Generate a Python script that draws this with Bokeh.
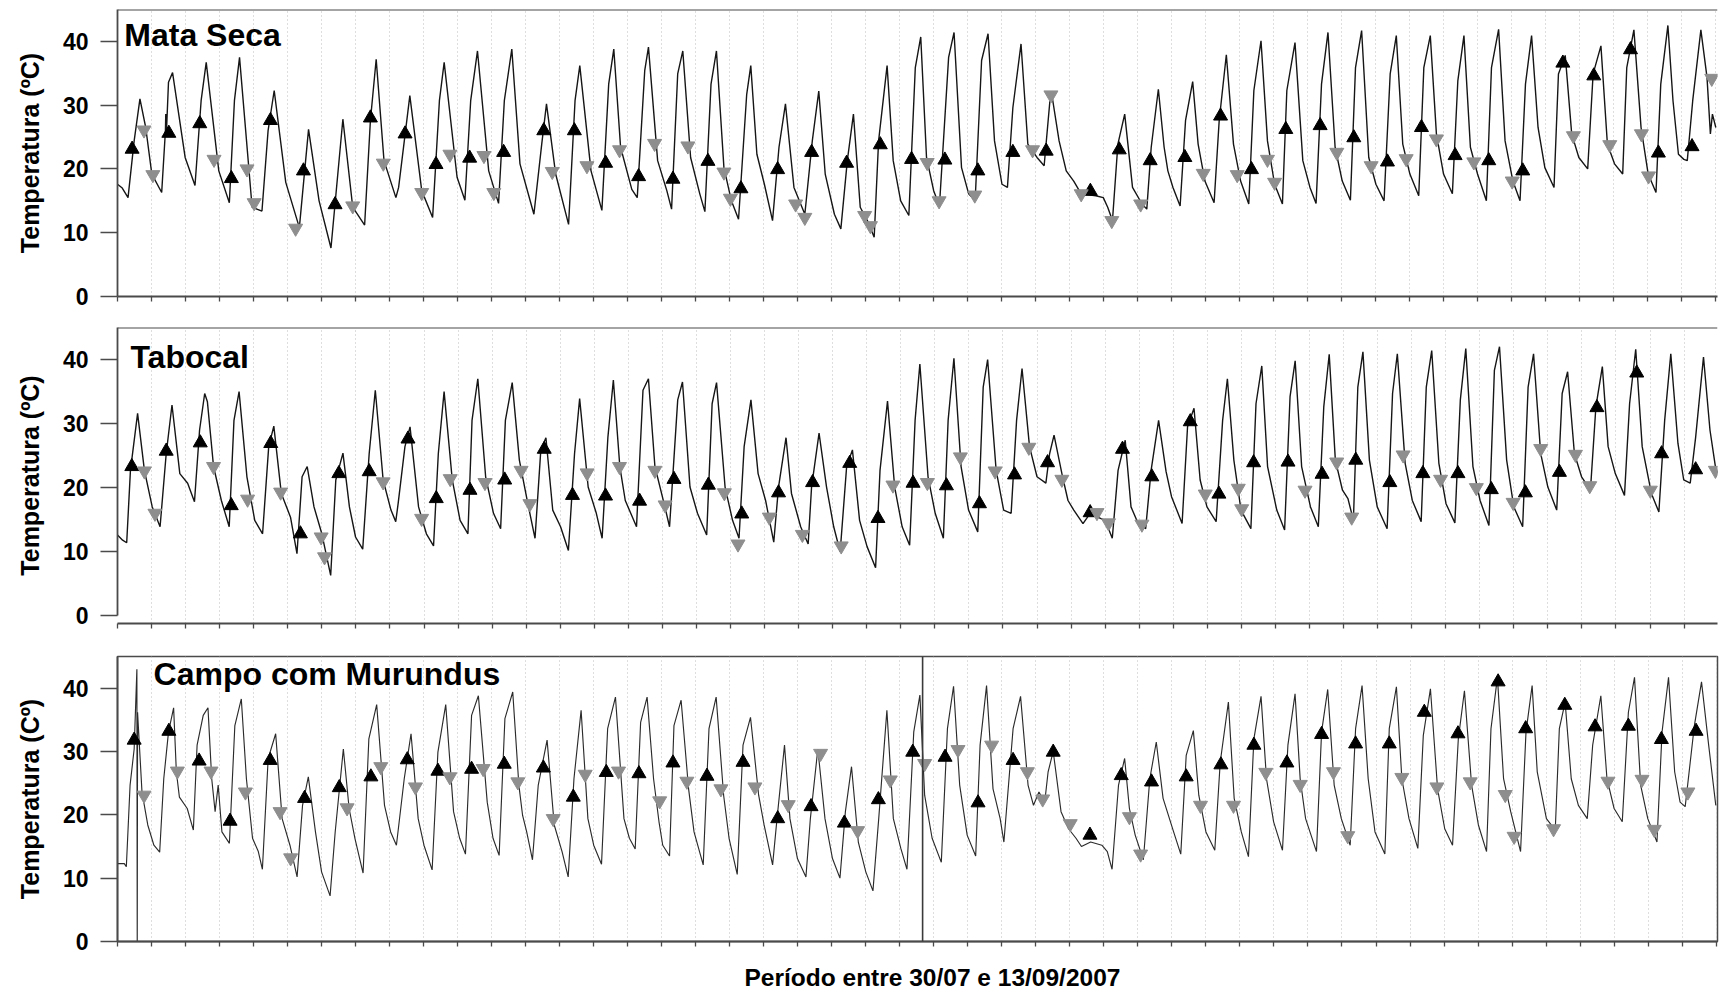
from bokeh.plotting import figure
from bokeh.layouts import column
from bokeh.models import FixedTicker, Span, Label
from bokeh.embed import file_html
from bokeh.resources import INLINE

FONT = "Liberation Sans"

# x unit: days since the left axis (30/07); one dotted grid line per day
day_ticks = list(range(0, 48))
temp_ticks = [0, 10, 20, 30, 40]

panel_titles = ["Mata Seca", "Tabocal", "Campo com Murundus"]
y_labels = ["Temperatura (ºC)", "Temperatura (ºC)", "Temperatura (Cº)"]
x_label = "Período entre 30/07 e 13/09/2007"

# ---- Mata Seca: temperature curve (day, °C) ----
mata_seca_curve = [
    (0.00, 17.6), (0.14, 17.0), (0.31, 15.5), (0.49, 24.4), (0.66, 31.0), (0.83, 26.5), (1.01, 19.2), (1.30, 16.3),
    (1.41, 26.0), (1.42, 28.6), (1.44, 25.8), (1.50, 33.6), (1.62, 35.1), (1.99, 21.8), (2.28, 17.4),
    (2.46, 30.7), (2.61, 36.7), (2.98, 19.7), (3.29, 14.7),
    (3.44, 30.7), (3.59, 37.5), (3.96, 14.0), (4.25, 13.4),
    (4.43, 26.0), (4.61, 32.3), (4.95, 17.9), (5.35, 10.8),
    (5.62, 26.2), (5.93, 15.0), (6.28, 7.6),
    (6.63, 27.8), (6.92, 14.0), (7.27, 11.2),
    (7.44, 27.6), (7.61, 37.2), (7.84, 21.3), (8.19, 15.5), (8.27, 17.1),
    (8.60, 31.5), (8.95, 16.6), (9.27, 12.4),
    (9.47, 30.7), (9.61, 36.7), (9.99, 18.7), (10.22, 15.1),
    (10.39, 30.7), (10.59, 38.5), (10.92, 19.7), (11.21, 14.6),
    (11.38, 30.7), (11.60, 38.8), (11.84, 20.8), (12.25, 12.9),
    (12.48, 23.9), (12.62, 30.2), (12.89, 19.2), (13.27, 11.3),
    (13.46, 30.7), (13.60, 36.2), (13.93, 19.7), (14.25, 13.5),
    (14.45, 33.3), (14.60, 38.8), (14.80, 23.4), (15.13, 16.8), (15.29, 15.5),
    (15.51, 35.4), (15.62, 39.1), (15.89, 21.3), (16.16, 16.6), (16.30, 13.7),
    (16.48, 34.9), (16.63, 38.5), (16.86, 21.8), (17.13, 16.1), (17.28, 13.3),
    (17.46, 33.3), (17.62, 38.5), (17.84, 20.2), (18.06, 15.0), (18.27, 12.1),
    (18.51, 31.7), (18.63, 36.2), (18.81, 22.3), (19.03, 17.6), (19.27, 11.9),
    (19.46, 23.4), (19.65, 30.2), (19.90, 17.1), (20.22, 12.9),
    (20.44, 24.4), (20.63, 32.2), (20.82, 19.2), (21.09, 12.9), (21.28, 10.6),
    (21.47, 21.3), (21.65, 28.6), (21.85, 14.0), (22.06, 11.9), (22.26, 9.3),
    (22.39, 24.4), (22.64, 36.2), (22.82, 21.3), (23.04, 15.0), (23.28, 12.7),
    (23.47, 35.9), (23.63, 40.7), (23.80, 21.8), (24.01, 16.6), (24.18, 14.2),
    (24.45, 37.5), (24.61, 41.4), (24.83, 20.2), (25.04, 16.1), (25.23, 15.0),
    (25.42, 37.0), (25.61, 41.2), (25.80, 24.4), (26.02, 17.6), (26.18, 17.1),
    (26.34, 29.6), (26.58, 39.6), (26.78, 23.9), (27.05, 21.8), (27.26, 20.5),
    (27.43, 30.7), (27.50, 31.2), (27.70, 24.4), (27.91, 19.7), (28.13, 18.1), (28.35, 16.1),
    (28.78, 15.8), (29.00, 15.5), (29.13, 14.0), (29.27, 11.9),
    (29.43, 23.9), (29.63, 28.6), (29.86, 17.1), (30.14, 14.5), (30.28, 13.7),
    (30.41, 23.4), (30.62, 32.5), (30.79, 23.4), (30.90, 19.7), (31.05, 17.1), (31.26, 14.2),
    (31.42, 27.6), (31.63, 33.7), (31.79, 23.9), (31.99, 18.1), (32.26, 14.7),
    (32.41, 27.6), (32.62, 37.9), (32.83, 23.9), (33.04, 18.1), (33.28, 14.5),
    (33.43, 32.3), (33.64, 40.1), (33.83, 24.4), (34.04, 17.6), (34.27, 14.5),
    (34.40, 32.3), (34.64, 39.8), (34.87, 21.3), (35.08, 17.1), (35.26, 14.6),
    (35.42, 33.3), (35.61, 41.4), (35.82, 23.4), (36.03, 18.1), (36.27, 15.1),
    (36.42, 35.9), (36.60, 41.7), (36.81, 21.8), (37.02, 17.6), (37.26, 15.0),
    (37.44, 34.9), (37.62, 40.9), (37.81, 23.9), (38.02, 19.2), (38.28, 15.8),
    (38.43, 35.9), (38.62, 40.9), (38.80, 25.5), (39.01, 19.2), (39.27, 16.1),
    (39.43, 33.8), (39.61, 40.9), (39.80, 23.4), (40.01, 19.2), (40.27, 15.0),
    (40.42, 35.9), (40.63, 41.9), (40.82, 24.4), (41.05, 18.1), (41.26, 15.0),
    (41.42, 33.3), (41.60, 40.9), (41.79, 26.5), (41.99, 20.2), (42.26, 17.1),
    (42.39, 34.9), (42.59, 37.8), (42.78, 25.5), (42.99, 21.8), (43.25, 20.0),
    (43.41, 34.9), (43.64, 39.3), (43.83, 23.9), (44.04, 20.8), (44.28, 19.2),
    (44.40, 35.9), (44.61, 41.8), (44.82, 26.5), (45.03, 19.2), (45.26, 16.3),
    (45.40, 33.3), (45.61, 42.5), (45.76, 30.7), (45.92, 22.3), (46.08, 21.5), (46.18, 21.3),
    (46.34, 30.7), (46.58, 41.8), (46.76, 34.4), (46.86, 25.5), (46.92, 28.6), (47.02, 26.5),
]
mata_seca_up = [
    (0.43, 23.1), (1.51, 25.6), (2.42, 27.1), (3.35, 18.5), (4.50, 27.6), (5.47, 19.7), (6.40, 14.4),
    (7.44, 28.0), (8.46, 25.5), (9.37, 20.7), (10.36, 21.7), (11.36, 22.6), (12.54, 26.0), (13.44, 26.0),
    (14.36, 20.9), (15.33, 18.8), (16.34, 18.4), (17.37, 21.2), (18.34, 16.9), (19.42, 19.9), (20.42, 22.6),
    (21.45, 20.9), (22.44, 23.8), (23.36, 21.5), (24.34, 21.4), (25.31, 19.7), (26.34, 22.6), (27.32, 22.8),
    (28.62, 16.5), (29.47, 23.0), (30.38, 21.3), (31.40, 21.8), (32.45, 28.3), (33.36, 19.9), (34.37, 26.2),
    (35.38, 26.8), (36.37, 24.9), (37.36, 21.1), (38.36, 26.5), (39.35, 22.1), (40.34, 21.3), (41.34, 19.7),
    (42.52, 36.6), (43.43, 34.6), (44.51, 38.7), (45.33, 22.5), (46.32, 23.5),
]
mata_seca_down = [
    (0.78, 26.1), (1.04, 19.1), (2.84, 21.5), (3.81, 20.0), (4.02, 14.7), (5.24, 10.7), (6.92, 14.2),
    (7.82, 20.9), (8.95, 16.3), (9.78, 22.3), (10.78, 22.1), (11.07, 16.3), (12.79, 19.6), (13.81, 20.5),
    (14.77, 23.0), (15.80, 24.0), (16.78, 23.6), (17.84, 19.5), (18.03, 15.4), (19.95, 14.5), (20.22, 12.4),
    (21.98, 12.7), (22.15, 11.1), (23.82, 21.0), (24.17, 15.0), (25.22, 15.9), (26.92, 23.0), (27.46, 31.6),
    (28.35, 16.1), (29.25, 11.9), (30.10, 14.5), (31.94, 19.3), (32.94, 19.1), (33.83, 21.5), (34.04, 17.9),
    (35.87, 22.6), (36.88, 20.5), (37.91, 21.6), (38.80, 24.7), (39.90, 21.1), (41.03, 18.1), (42.83, 25.2),
    (43.90, 23.8), (44.83, 25.5), (45.04, 18.9), (46.90, 34.2),
]

# ---- Tabocal ----
tabocal_curve = [
    (0.00, 12.6), (0.15, 11.8), (0.27, 11.4), (0.38, 22.7), (0.59, 31.6), (0.79, 22.7), (1.02, 17.0), (1.25, 13.9),
    (1.43, 25.3), (1.60, 32.9), (1.83, 22.2), (2.06, 20.7), (2.26, 17.8),
    (2.41, 29.0), (2.56, 34.7), (2.64, 33.4), (2.82, 23.3), (3.05, 18.0), (3.28, 13.9),
    (3.42, 30.5), (3.57, 35.0), (3.80, 21.7), (4.03, 14.9), (4.26, 12.8),
    (4.44, 26.4), (4.59, 29.6), (4.81, 19.1), (5.08, 15.4), (5.27, 9.7),
    (5.42, 21.7), (5.57, 23.3), (5.77, 17.0), (6.00, 12.8), (6.26, 6.3),
    (6.41, 21.2), (6.62, 25.4), (6.81, 17.0), (6.99, 12.3), (7.20, 10.4),
    (7.39, 25.3), (7.57, 35.2), (7.80, 21.2), (8.03, 16.5), (8.17, 14.7), (8.24, 17.5),
    (8.44, 26.4), (8.59, 29.5), (8.84, 17.0), (9.07, 12.8), (9.28, 10.9),
    (9.42, 25.3), (9.59, 35.0), (9.83, 21.2), (10.06, 14.9), (10.29, 12.8),
    (10.41, 30.5), (10.58, 37.0), (10.81, 21.7), (11.04, 16.0), (11.25, 13.6),
    (11.39, 30.5), (11.59, 36.4), (11.80, 24.3), (12.03, 18.0), (12.26, 12.1),
    (12.43, 25.9), (12.58, 27.8), (12.78, 16.5), (13.01, 13.9), (13.24, 10.2),
    (13.42, 25.3), (13.57, 33.9), (13.82, 20.1), (14.06, 16.0), (14.23, 12.1),
    (14.40, 27.9), (14.56, 36.8), (14.75, 23.3), (14.91, 18.0), (15.24, 13.9),
    (15.43, 35.2), (15.59, 37.0), (15.78, 23.3), (16.05, 17.5), (16.21, 13.9),
    (16.45, 33.7), (16.59, 36.5), (16.81, 20.1), (17.03, 16.0), (17.30, 12.6),
    (17.46, 33.1), (17.59, 36.4), (17.84, 20.1), (18.06, 14.9), (18.25, 12.1),
    (18.40, 26.4), (18.60, 33.7), (18.81, 22.2), (19.03, 18.0), (19.27, 11.5),
    (19.41, 20.1), (19.63, 27.8), (19.79, 19.1), (20.06, 13.9), (20.28, 11.2),
    (20.38, 20.1), (20.60, 28.5), (20.82, 20.1), (21.03, 13.9), (21.22, 10.0),
    (21.41, 23.3), (21.58, 25.9), (21.79, 14.9), (22.01, 10.8), (22.26, 7.5),
    (22.39, 22.7), (22.61, 33.5), (22.82, 20.1), (23.04, 13.9), (23.26, 11.0),
    (23.42, 30.5), (23.56, 39.3), (23.80, 21.7), (24.01, 16.0), (24.25, 12.1),
    (24.39, 30.5), (24.56, 40.2), (24.77, 23.3), (24.99, 16.5), (25.26, 13.1),
    (25.42, 35.7), (25.55, 40.0), (25.80, 22.7), (26.02, 16.5), (26.24, 16.0),
    (26.40, 30.5), (26.56, 38.6), (26.78, 26.4), (27.00, 21.7), (27.26, 20.7),
    (27.37, 25.3), (27.50, 28.2), (27.75, 21.7), (27.91, 18.0), (28.08, 16.5), (28.35, 14.4),
    (28.56, 16.0), (28.78, 15.4), (29.00, 14.9), (29.21, 12.1),
    (29.38, 22.7), (29.59, 27.4), (29.76, 17.0), (29.97, 14.4), (30.19, 13.6),
    (30.35, 22.7), (30.57, 30.5), (30.79, 22.5), (30.95, 18.6), (31.26, 14.4),
    (31.42, 29.5), (31.61, 32.4), (31.79, 21.2), (31.99, 17.0), (32.26, 14.7),
    (32.45, 30.5), (32.59, 37.0), (32.78, 24.3), (32.99, 16.5), (33.28, 13.6),
    (33.43, 33.1), (33.60, 39.0), (33.77, 23.3), (34.04, 16.5), (34.27, 13.4),
    (34.43, 34.2), (34.58, 39.8), (34.77, 23.3), (35.03, 17.0), (35.26, 13.9),
    (35.42, 32.6), (35.58, 40.8), (35.76, 24.3), (35.97, 19.6), (36.13, 18.3), (36.29, 14.9),
    (36.42, 35.7), (36.57, 41.2), (36.76, 24.3), (36.99, 17.0), (37.28, 13.6),
    (37.44, 34.7), (37.58, 40.9), (37.81, 23.8), (38.02, 18.0), (38.28, 14.7),
    (38.43, 35.7), (38.59, 41.4), (38.80, 23.8), (39.01, 17.5), (39.27, 14.5),
    (39.43, 33.7), (39.59, 41.7), (39.80, 23.3), (40.01, 18.0), (40.27, 14.1),
    (40.43, 38.3), (40.58, 42.0), (40.79, 24.3), (41.00, 17.0), (41.26, 13.9),
    (41.42, 35.7), (41.58, 40.9), (41.79, 25.3), (42.00, 20.1), (42.26, 16.5),
    (42.42, 34.7), (42.58, 38.1), (42.78, 25.3), (42.99, 21.7), (43.25, 19.6),
    (43.41, 32.6), (43.60, 38.9), (43.77, 26.4), (43.98, 22.2), (44.25, 18.8),
    (44.40, 33.1), (44.58, 41.6), (44.77, 26.4), (45.04, 19.1), (45.26, 16.2),
    (45.43, 30.5), (45.61, 40.9), (45.82, 26.9), (45.99, 21.2), (46.18, 20.7),
    (46.34, 27.9), (46.57, 40.4), (46.76, 29.0), (46.92, 23.3), (47.00, 22.2),
]
tabocal_up = [
    (0.42, 23.3), (1.43, 25.7), (2.43, 27.0), (3.34, 17.2), (4.50, 26.9), (5.37, 12.8), (6.50, 22.2),
    (7.39, 22.5), (8.53, 27.6), (9.36, 18.3), (10.35, 19.6), (11.37, 21.2), (12.53, 26.0), (13.36, 18.8),
    (14.33, 18.7), (15.33, 17.9), (16.34, 21.3), (17.35, 20.4), (18.33, 15.9), (19.41, 19.2), (20.41, 20.8),
    (21.50, 23.8), (22.33, 15.2), (23.36, 20.7), (24.34, 20.3), (25.31, 17.5), (26.34, 22.0), (27.31, 23.9),
    (28.56, 16.1), (29.51, 26.0), (30.37, 21.7), (31.50, 30.3), (32.34, 19.0), (33.36, 23.9), (34.37, 24.0),
    (35.37, 22.1), (36.36, 24.3), (37.36, 20.8), (38.33, 22.2), (39.36, 22.2), (40.34, 19.7), (41.34, 19.2),
    (42.34, 22.4), (43.44, 32.5), (44.61, 37.9), (45.34, 25.3), (46.34, 22.8),
]
tabocal_down = [
    (0.79, 22.6), (1.10, 16.0), (2.82, 23.3), (3.82, 18.2), (4.79, 19.3), (5.98, 12.3), (6.08, 9.2),
    (7.80, 20.9), (8.93, 15.2), (9.77, 21.4), (10.79, 20.8), (11.85, 22.7), (12.11, 17.5), (13.79, 22.3),
    (14.74, 23.3), (15.78, 22.7), (16.08, 17.3), (17.82, 19.2), (18.22, 11.2), (19.14, 15.4), (20.11, 12.7),
    (21.25, 10.9), (22.77, 20.4), (23.78, 20.8), (24.75, 24.8), (25.77, 22.6), (26.76, 26.3), (27.73, 21.3),
    (28.76, 16.1), (29.10, 14.5), (30.08, 14.3), (31.94, 19.0), (32.91, 19.9), (33.01, 16.7), (34.87, 19.6),
    (35.80, 24.0), (36.24, 15.4), (37.75, 25.1), (38.85, 21.3), (39.90, 20.0), (40.98, 17.7), (41.79, 26.1),
    (42.81, 25.2), (43.23, 20.3), (45.01, 19.6), (46.92, 22.7),
]

# ---- Campo com Murundus ----
campo_curve = [
    (0.00, 12.3), (0.20, 12.3), (0.26, 11.8), (0.37, 24.7), (0.49, 30.4), (0.57, 43.0), (0.58, 0.0), (0.59, 36.2),
    (0.72, 23.6), (0.89, 18.4), (1.07, 15.2), (1.24, 14.1),
    (1.36, 25.7), (1.50, 33.1), (1.65, 36.9), (1.73, 26.8), (1.82, 22.8), (2.05, 21.0), (2.23, 17.6),
    (2.34, 31.0), (2.52, 35.7), (2.66, 36.9), (2.77, 25.7), (2.87, 20.5), (2.96, 24.7), (3.07, 17.3), (3.29, 15.5),
    (3.45, 34.1), (3.64, 38.3), (3.79, 25.7), (3.97, 16.3), (4.14, 14.2), (4.26, 11.4),
    (4.43, 28.9), (4.65, 32.8), (4.84, 19.4), (5.07, 15.2), (5.28, 10.2),
    (5.44, 21.5), (5.61, 26.0), (5.82, 17.3), (6.00, 11.0), (6.25, 7.2),
    (6.40, 17.3), (6.64, 30.4), (6.81, 21.0), (6.98, 16.3), (7.22, 10.8),
    (7.39, 32.0), (7.62, 37.4), (7.85, 21.5), (8.03, 17.3), (8.20, 15.2),
    (8.43, 25.7), (8.63, 32.8), (8.84, 19.4), (9.01, 15.2), (9.25, 11.3),
    (9.42, 29.9), (9.65, 37.4), (9.88, 20.5), (10.06, 16.3), (10.23, 13.8),
    (10.41, 35.7), (10.61, 38.8), (10.87, 22.0), (11.04, 16.3), (11.22, 13.6),
    (11.39, 35.2), (11.62, 39.4), (11.80, 24.7), (11.91, 19.9), (12.03, 17.3), (12.20, 12.9),
    (12.37, 24.7), (12.63, 31.8), (12.84, 18.4), (13.07, 14.2), (13.25, 10.2),
    (13.42, 25.7), (13.63, 36.5), (13.83, 19.4), (14.00, 15.2), (14.23, 12.2),
    (14.41, 33.6), (14.64, 38.6), (14.89, 19.4), (15.05, 16.3), (15.22, 14.6),
    (15.38, 34.6), (15.57, 38.6), (15.76, 25.7), (15.92, 18.9), (16.03, 15.2), (16.23, 13.5),
    (16.36, 34.1), (16.57, 38.1), (16.79, 24.1), (16.95, 17.3), (17.22, 12.1),
    (17.39, 33.6), (17.60, 38.6), (17.82, 23.1), (17.98, 16.3), (18.22, 10.6),
    (18.39, 31.0), (18.61, 35.4), (18.85, 23.1), (19.01, 18.4), (19.26, 12.1),
    (19.39, 19.4), (19.61, 31.0), (19.77, 19.4), (19.99, 13.1), (20.24, 10.2),
    (20.37, 19.4), (20.59, 30.4), (20.80, 19.4), (21.02, 13.1), (21.24, 10.0),
    (21.40, 20.5), (21.58, 27.6), (21.78, 15.7), (22.00, 11.0), (22.21, 8.0),
    (22.38, 19.4), (22.62, 36.5), (22.81, 19.4), (23.03, 14.7), (23.21, 11.4),
    (23.41, 33.1), (23.59, 38.9), (23.73, 23.1), (23.95, 16.3), (24.22, 12.5),
    (24.40, 33.6), (24.58, 40.3), (24.76, 24.7), (24.98, 16.8), (25.23, 13.5),
    (25.36, 31.0), (25.55, 40.4), (25.74, 24.1), (25.95, 19.4), (26.06, 15.7),
    (26.33, 33.6), (26.55, 38.7), (26.77, 24.7), (26.93, 21.5), (27.09, 23.6), (27.26, 22.0),
    (27.36, 26.8), (27.51, 30.0), (27.74, 20.5), (27.96, 17.8), (28.18, 16.3), (28.34, 15.0),
    (28.61, 15.7), (28.94, 15.2), (29.10, 14.2), (29.24, 11.4),
    (29.43, 24.7), (29.61, 28.9), (29.75, 21.0), (29.92, 16.8), (30.16, 12.9),
    (30.35, 25.7), (30.54, 31.5), (30.74, 22.6), (31.05, 17.3), (31.26, 13.8),
    (31.42, 29.4), (31.63, 33.3), (31.79, 23.1), (32.00, 17.3), (32.26, 14.4),
    (32.42, 28.3), (32.66, 37.8), (32.83, 22.6), (33.04, 17.3), (33.25, 13.4),
    (33.41, 32.0), (33.62, 38.7), (33.78, 25.7), (33.99, 18.9), (34.25, 14.4),
    (34.41, 31.0), (34.62, 39.1), (34.77, 25.7), (34.93, 19.4), (35.25, 14.2),
    (35.40, 33.1), (35.58, 39.8), (35.77, 24.7), (35.98, 19.4), (36.24, 15.2),
    (36.40, 33.6), (36.59, 40.4), (36.77, 25.7), (36.97, 17.3), (37.26, 13.8),
    (37.39, 33.6), (37.60, 40.2), (37.76, 25.7), (37.97, 19.4), (38.23, 14.7),
    (38.39, 32.5), (38.60, 39.9), (38.81, 24.1), (39.02, 17.8), (39.25, 15.2),
    (39.42, 32.0), (39.60, 39.6), (39.81, 24.7), (40.01, 18.4), (40.25, 14.2),
    (40.38, 33.6), (40.57, 41.7), (40.75, 25.7), (40.96, 20.5), (41.25, 14.2),
    (41.41, 33.1), (41.59, 40.4), (41.74, 26.8), (42.01, 19.4), (42.27, 17.6),
    (42.39, 33.6), (42.56, 37.8), (42.74, 25.7), (42.95, 21.5), (43.21, 19.4),
    (43.37, 31.0), (43.61, 38.8), (43.79, 25.7), (44.00, 21.0), (44.24, 18.9),
    (44.42, 36.2), (44.60, 41.7), (44.78, 24.7), (44.99, 19.4), (45.26, 15.7),
    (45.41, 33.1), (45.60, 41.7), (45.78, 26.8), (45.94, 22.0), (46.09, 21.3),
    (46.36, 34.1), (46.57, 41.0), (46.78, 31.0), (46.99, 21.5),
]
campo_up = [
    (0.49, 31.8), (1.51, 33.2), (2.40, 28.5), (3.31, 19.0), (4.49, 28.6), (5.50, 22.6), (6.52, 24.3),
    (7.45, 26.0), (8.52, 28.7), (9.42, 26.9), (10.41, 27.2), (11.37, 28.0), (12.52, 27.4), (13.40, 22.8),
    (14.37, 26.7), (15.33, 26.5), (16.33, 28.2), (17.33, 26.1), (18.39, 28.3), (19.41, 19.4), (20.39, 21.3),
    (21.37, 18.7), (22.37, 22.4), (23.38, 29.9), (24.33, 29.1), (25.30, 21.9), (26.33, 28.6), (27.51, 29.9),
    (28.59, 16.8), (29.51, 26.2), (30.40, 25.2), (31.42, 26.0), (32.44, 27.9), (33.41, 31.0), (34.38, 28.2),
    (35.40, 32.7), (36.40, 31.2), (37.39, 31.2), (38.42, 36.2), (39.41, 32.8), (40.59, 41.0), (41.40, 33.6),
    (42.55, 37.3), (43.44, 33.9), (44.42, 34.0), (45.39, 31.9), (46.41, 33.2),
]
campo_down = [
    (0.78, 23.1), (1.76, 26.9), (2.75, 26.9), (3.76, 23.6), (4.78, 20.5), (5.09, 13.2), (6.75, 21.1),
    (7.74, 27.6), (8.76, 24.4), (9.77, 26.0), (10.75, 27.3), (11.77, 25.2), (12.81, 19.4), (13.75, 26.4),
    (14.73, 26.9), (15.94, 22.2), (16.74, 25.3), (17.74, 24.1), (18.74, 24.4), (19.72, 21.6), (20.67, 29.7),
    (21.76, 17.5), (22.72, 25.5), (23.73, 28.1), (24.71, 30.3), (25.70, 31.0), (26.75, 26.8), (27.20, 22.5),
    (28.01, 18.6), (29.75, 19.7), (30.08, 13.8), (31.84, 21.5), (32.81, 21.5), (33.76, 26.7), (34.77, 24.8),
    (35.75, 26.8), (36.17, 16.7), (37.76, 25.9), (38.79, 24.4), (39.77, 25.2), (40.80, 23.2), (41.06, 16.6),
    (42.22, 17.8), (43.82, 25.3), (44.82, 25.6), (45.18, 17.7), (46.17, 23.6),
]
campo_marker_day = 23.67   # vertical reference line in the lower panel


def unzip(pairs):
    return [a for a, b in pairs], [b for a, b in pairs]


def make_panel(curve, up, down, title, ylabel, *, height, left, right, top, bottom,
               y_start, title_pos, boxed, line_color, line_width):
    px_per_day = 34.12
    frame_w = 1720 - left - right
    p = figure(width=1720, height=height, x_range=(0, frame_w / px_per_day), y_range=(y_start, 45),
               output_backend="svg", toolbar_location=None,
               min_border_left=left, min_border_right=right, min_border_top=top, min_border_bottom=bottom)
    p.background_fill_color = "white"
    p.border_fill_color = "white"
    if boxed:
        p.outline_line_color = "#4a4a4a"
        p.outline_line_width = 1.5
    else:
        p.outline_line_color = None
        p.add_layout(Span(location=45, dimension="width", line_color="#4a4a4a", line_width=2))

    # grid: dotted verticals, one per day
    p.xgrid.ticker = FixedTicker(ticks=day_ticks)
    p.xgrid.grid_line_color = "#bdbdbd"
    p.xgrid.grid_line_dash = "1 3"
    p.xgrid.grid_line_width = 1
    p.ygrid.visible = False

    # x axis: tick marks only
    xa = p.xaxis[0]
    xa.ticker = FixedTicker(ticks=day_ticks)
    xa.major_label_overrides = {t: "" for t in day_ticks}
    xa.major_label_text_font_size = "1px"
    xa.major_label_standoff = 0
    xa.major_tick_in = 0
    xa.major_tick_out = 5
    xa.minor_tick_line_color = None
    xa.axis_line_color = "#4a4a4a"
    xa.axis_line_width = 1.8
    xa.major_tick_line_color = "#4a4a4a"
    xa.major_tick_line_width = 1.3

    ya = p.yaxis[0]
    ya.ticker = FixedTicker(ticks=temp_ticks)
    ya.bounds = (0, 45)
    ya.major_tick_in = 0
    ya.major_tick_out = 17
    ya.minor_tick_line_color = None
    ya.major_label_standoff = 12
    ya.major_label_text_font = FONT
    ya.major_label_text_font_style = "bold"
    ya.major_label_text_font_size = "23px"
    ya.major_label_text_color = "black"
    ya.axis_line_color = "#4a4a4a"
    ya.axis_line_width = 1.8
    ya.major_tick_line_color = "#4a4a4a"
    ya.major_tick_line_width = 1.5
    ya.axis_label = ylabel
    ya.axis_label_text_font = FONT
    ya.axis_label_text_font_style = "bold"
    ya.axis_label_text_font_size = "25px"
    ya.axis_label_text_color = "black"
    ya.axis_label_standoff = 16

    cx, cy = unzip(curve)
    p.line(cx, cy, line_color=line_color, line_width=line_width)
    ux, uy = unzip(up)
    p.scatter(ux, uy, marker="triangle", size=14, fill_color="black", line_color="black")
    dx, dy = unzip(down)
    p.scatter(dx, dy, marker="inverted_triangle", size=14, fill_color="#8e8e8e", line_color="#8e8e8e")

    p.add_layout(Label(x=title_pos[0], y=title_pos[1], text=title, text_font=FONT, text_font_style="bold",
                       text_font_size="32px", text_baseline="middle", text_align="left", text_color="black"))
    return p


p1 = make_panel(mata_seca_curve, mata_seca_up, mata_seca_down, panel_titles[0], y_labels[0],
                height=317, left=114, right=0, top=9, bottom=21, y_start=0,
                title_pos=(0.20, 41.0), boxed=False, line_color="#151515", line_width=1.4)
p2 = make_panel(tabocal_curve, tabocal_up, tabocal_down, panel_titles[1], y_labels[1],
                height=329, left=117, right=0, top=10, bottom=23, y_start=-1.2,
                title_pos=(0.38, 40.4), boxed=False, line_color="#151515", line_width=1.4)
p3 = make_panel(campo_curve, campo_up, campo_down, panel_titles[2], y_labels[2],
                height=311, left=112, right=3, top=10, bottom=16, y_start=0,
                title_pos=(1.06, 42.2), boxed=True, line_color="#2b2b2b", line_width=1.15)
p3.add_layout(Span(location=campo_marker_day, dimension="height", line_color="#3a3a3a", line_width=1.6))

# strip below the last panel holding the x-axis title; its x scale is page pixels minus the 114 px margin
p4 = figure(width=1720, height=35, x_range=(0, 1606), y_range=(0, 35), output_backend="svg",
            toolbar_location=None, x_axis_type=None, y_axis_type=None,
            min_border_left=114, min_border_right=0, min_border_top=0, min_border_bottom=0)
p4.grid.visible = False
p4.outline_line_color = None
p4.background_fill_color = "white"
p4.border_fill_color = "white"
p4.add_layout(Label(x=818, y=15, text=x_label, text_font=FONT, text_font_style="bold",
                    text_font_size="24.5px", text_align="center", text_baseline="middle", text_color="black"))

layout = column(p1, p2, p3, p4, spacing=0)
open("out.html", "w").write(file_html(layout, INLINE))
